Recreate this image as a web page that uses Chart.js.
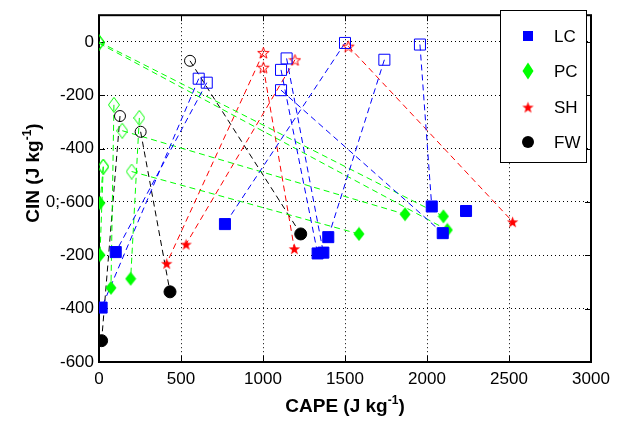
<!DOCTYPE html>
<html lang="en">
<head>
<meta charset="UTF-8">
<title>CAPE vs CIN</title>
<script src="https://cdn.jsdelivr.net/npm/chart.js"></script>
<style>
    html, body { margin: 0; padding: 0; background: #fff; }
</style>
</head>
<body>
<canvas id="capeCinChart" width="621" height="438"></canvas>
<script>
    // hollow marker i is joined by a dashed line to filled marker i
    // hollow = upper panel (0 .. -600), filled = lower panel (0 .. -600)
    const groupNames = ['LC', 'PC', 'SH', 'FW'];

    const lcHollowCape = [608, 657, 1500, 1144, 1110, 1110, 1740, 1957, null];
    const lcHollowCin  = [-138, -153, -4, -62, -105, -181, -67, -10, null];
    const lcFilledCape = [16, 102, 768, 1368, 1333, 2096, 1398, 2029, 2238];
    const lcFilledCin  = [-396, -188, -83, -190, -193, -117, -132, -17, -34];

    const pcHollowCape = [0, 0, 91, 142, 246, 26, 199, 26];
    const pcHollowCin  = [0, -5, -236, -333, -285, -468, -486, -468];
    const pcFilledCape = [2100, 2124, 73, 1866, 193, 6, 1585, 6];
    const pcFilledCin  = [-54, -105, -322, -46, -288, -4, -120, -199];

    const shHollowCape = [1002, 1002, 1195, 1520];
    const shHollowCin  = [-40, -95, -67, -16];
    const shFilledCape = [413, 1191, 531, 2522];
    const shFilledCin  = [-230, -175, -158, -74];

    const fwHollowCape = [555, 128, 254];
    const fwHollowCin  = [-71, -278, -337];
    const fwFilledCape = [1230, 16, 433];
    const fwFilledCin  = [-120, -520, -337];

    const capeTicks = [0, 500, 1000, 1500, 2000, 2500, 3000];
    const cinTickValues = [-1200, -1000, -800, -600, -400, -200, 0];
    const cinTickLabels = ['-600', '-400', '-200', '0;-600', '-400', '-200', '0'];

    const LOWER_SHIFT = -600;
    const FONT = '"Liberation Sans", Arial, sans-serif';

    // small canvases for the MATLAB style diamond and pentagram markers
    function makeMarker(shape, color, filled, w, h) {
        const c = document.createElement('canvas');
        c.width = w;
        c.height = h;
        const g = c.getContext('2d');
        g.strokeStyle = color;
        g.fillStyle = color;
        g.lineWidth = 1;
        g.beginPath();
        if (shape === 'diamond') {
            g.moveTo(w / 2, 0.5);
            g.lineTo(w - 0.5, h / 2);
            g.lineTo(w / 2, h - 0.5);
            g.lineTo(0.5, h / 2);
        } else {
            const cx = w / 2, cy = h / 2 + 0.8, ro = w / 2 - 0.5, ri = ro * 0.4;
            for (let k = 0; k < 10; k++) {
                const r = k % 2 ? ri : ro;
                const a = -Math.PI / 2 + k * Math.PI / 5;
                const px = cx + r * Math.cos(a), py = cy + r * Math.sin(a);
                if (k) g.lineTo(px, py); else g.moveTo(px, py);
            }
        }
        g.closePath();
        if (filled) g.fill(); else g.stroke();
        return c;
    }

    const groups = [
        { color: '#0000ff', hx: lcHollowCape, hy: lcHollowCin, fx: lcFilledCape, fy: lcFilledCin,
          hollow: 'rect', filled: 'rect', radius: 7.8 },
        { color: '#00ff00', hx: pcHollowCape, hy: pcHollowCin, fx: pcFilledCape, fy: pcFilledCin,
          hollow: makeMarker('diamond', '#00ff00', false, 12, 16), filled: makeMarker('diamond', '#00ff00', true, 12, 15), radius: 7 },
        { color: '#ff0000', hx: shHollowCape, hy: shHollowCin, fx: shFilledCape, fy: shFilledCin,
          hollow: makeMarker('star', '#ff0000', false, 13, 13), filled: makeMarker('star', '#ff0000', true, 13, 13), radius: 7 },
        { color: '#000000', hx: fwHollowCape, hy: fwHollowCin, fx: fwFilledCape, fy: fwFilledCin,
          hollow: 'circle', filled: 'circle', radius: 6 }
    ];

    const datasets = [];
    groups.forEach((gr, gi) => {
        const links = [];
        const hollowPts = [];
        const filledPts = [];
        gr.fx.forEach((fx, i) => {
            filledPts.push({ x: fx, y: gr.fy[i] + LOWER_SHIFT });
            if (gr.hx[i] === null) return;
            hollowPts.push({ x: gr.hx[i], y: gr.hy[i] });
            links.push({ x: gr.hx[i], y: gr.hy[i] }, { x: fx, y: gr.fy[i] + LOWER_SHIFT }, { x: null, y: null });
        });
        datasets.push({
            label: groupNames[gi] + ' link',
            data: links,
            showLine: true,
            spanGaps: false,
            borderColor: gr.color,
            borderWidth: 1,
            borderDash: [6, 4],
            pointRadius: 0,
            order: 3
        });
        datasets.push({
            label: groupNames[gi] + ' upper',
            data: hollowPts,
            pointStyle: gr.hollow,
            pointRadius: gr.hollow === 'circle' ? 5.5 : gr.radius,
            pointBackgroundColor: 'rgba(0,0,0,0)',
            pointBorderColor: gr.color,
            pointBorderWidth: 1,
            order: 2
        });
        datasets.push({
            label: groupNames[gi],
            data: filledPts,
            pointStyle: gr.filled,
            pointRadius: gr.radius,
            pointBackgroundColor: gr.color,
            pointBorderColor: gr.color,
            pointBorderWidth: 1,
            order: 1
        });
    });

    // axes box, inward ticks, legend and axis titles
    const matlabFrame = {
        id: 'matlabFrame',
        beforeDatasetsDraw(chart) {
            const { ctx, chartArea: a, scales } = chart;
            ctx.save();
            ctx.strokeStyle = '#000';
            ctx.lineWidth = 1;
            ctx.beginPath();
            capeTicks.forEach(v => {
                const px = Math.round(scales.x.getPixelForValue(v)) + 0.5;
                ctx.moveTo(px, a.bottom); ctx.lineTo(px, a.bottom - 6);
                ctx.moveTo(px, a.top); ctx.lineTo(px, a.top + 6);
            });
            cinTickValues.forEach(v => {
                const py = Math.round(scales.y.getPixelForValue(v)) + 0.5;
                ctx.moveTo(a.left, py); ctx.lineTo(a.left + 6, py);
                ctx.moveTo(a.right, py); ctx.lineTo(a.right - 6, py);
            });
            ctx.stroke();
            ctx.lineWidth = 2;
            ctx.strokeRect(a.left, a.top, a.right - a.left, a.bottom - a.top);
            ctx.restore();
        },
        afterDraw(chart) {
            const { ctx, chartArea: a } = chart;
            ctx.save();
            // legend
            const lx = 500.5, ly = 10.5, lw = 86, lh = 152;
            ctx.fillStyle = '#fff';
            ctx.fillRect(lx, ly, lw, lh);
            ctx.strokeStyle = '#000';
            ctx.lineWidth = 1;
            ctx.strokeRect(lx, ly, lw, lh);
            const rowY = [36, 71, 107, 142];
            const mx = 528;
            groups.forEach((gr, gi) => {
                const y = rowY[gi];
                ctx.fillStyle = gr.color;
                if (gi === 0) {
                    ctx.fillRect(mx - 5, y - 5, 10, 10);
                } else if (gi === 3) {
                    ctx.beginPath();
                    ctx.arc(mx, y, 6, 0, Math.PI * 2);
                    ctx.fill();
                } else {
                    const img = gi === 1 ? makeMarker('diamond', gr.color, true, 12, 18) : gr.filled;
                    ctx.drawImage(img, mx - img.width / 2, y - img.height / 2);
                }
                ctx.fillStyle = '#000';
                ctx.font = '17px ' + FONT;
                ctx.textAlign = 'left';
                ctx.textBaseline = 'middle';
                ctx.fillText(groupNames[gi], 554, y + 1);
            });

            // axis titles with superscript
            function titleWidth(main, sup, tail) {
                ctx.font = 'bold 19px ' + FONT;
                let w = ctx.measureText(main).width + ctx.measureText(tail).width;
                ctx.font = 'bold 12px ' + FONT;
                return w + ctx.measureText(sup).width;
            }
            function drawTitle(main, sup, tail, x, y) {
                ctx.textAlign = 'left';
                ctx.textBaseline = 'alphabetic';
                ctx.fillStyle = '#000';
                ctx.font = 'bold 19px ' + FONT;
                ctx.fillText(main, x, y);
                x += ctx.measureText(main).width;
                ctx.font = 'bold 12px ' + FONT;
                ctx.fillText(sup, x, y - 8);
                x += ctx.measureText(sup).width;
                ctx.font = 'bold 19px ' + FONT;
                ctx.fillText(tail, x, y);
            }
            const wx = titleWidth('CAPE (J kg', '-1', ')');
            drawTitle('CAPE (J kg', '-1', ')', (a.left + a.right) / 2 - wx / 2, 412);
            const wy = titleWidth('CIN (J kg', '-1', ')');
            ctx.translate(39, 173);
            ctx.rotate(-Math.PI / 2);
            drawTitle('CIN (J kg', '-1', ')', -wy / 2, 0);
            ctx.restore();
        }
    };

    new Chart(document.getElementById('capeCinChart').getContext('2d'), {
        type: 'scatter',
        data: { datasets: datasets },
        options: {
            responsive: false,
            animation: false,
            layout: { padding: { top: 7, right: 30, left: 0, bottom: 0 } },
            plugins: {
                legend: { display: false },
                tooltip: { enabled: false }
            },
            scales: {
                x: {
                    type: 'linear',
                    min: 0,
                    max: 3000,
                    afterBuildTicks: scale => { scale.ticks = capeTicks.map(v => ({ value: v })); },
                    afterFit: scale => { scale.height = 76; },
                    ticks: {
                        color: '#000',
                        font: { family: FONT, size: 17 },
                        padding: 7,
                        maxRotation: 0,
                        callback: value => String(value)
                    },
                    grid: { color: '#000', drawTicks: false, lineWidth: 1 },
                    border: { display: false, dash: [1, 3] }
                },
                y: {
                    type: 'linear',
                    min: -1200,
                    max: 100,
                    afterBuildTicks: scale => { scale.ticks = cinTickValues.map(v => ({ value: v })); },
                    afterFit: scale => { scale.width = 99; },
                    ticks: {
                        color: '#000',
                        font: { family: FONT, size: 17 },
                        padding: 5,
                        callback: value => cinTickLabels[cinTickValues.indexOf(value)]
                    },
                    grid: { color: '#000', drawTicks: false, lineWidth: 1 },
                    border: { display: false, dash: [1, 3] }
                }
            }
        },
        plugins: [matlabFrame]
    });
</script>
</body>
</html>
